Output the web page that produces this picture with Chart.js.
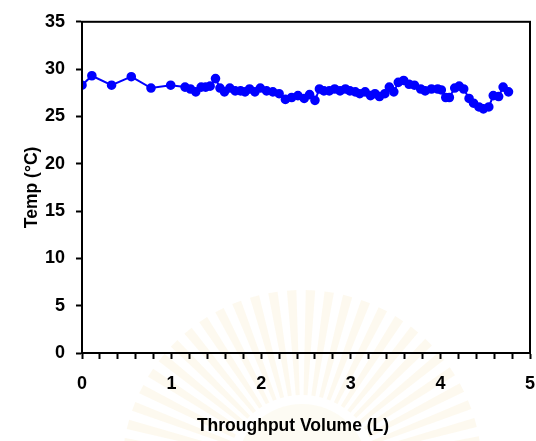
<!DOCTYPE html>
<html>
<head>
<meta charset="utf-8">
<script src="https://cdn.jsdelivr.net/npm/chart.js@4.4.1/dist/chart.umd.min.js"></script>
<style>
  html, body { margin: 0; padding: 0; background: #fff; }
  #wrap { width: 536px; height: 441px; position: relative; }
</style>
</head>
<body>
<div id="wrap"><canvas id="c" width="536" height="441"></canvas></div>
<script>
// Throughput volume (L) and outlet temperature (°C)
const volume = [
  0.00, 0.11, 0.33, 0.55, 0.77, 0.99, 1.15, 1.21, 1.27, 1.33,
  1.38, 1.43, 1.49, 1.54, 1.59, 1.65, 1.71, 1.77, 1.82, 1.87,
  1.93, 1.99, 2.06, 2.13, 2.20, 2.27, 2.34, 2.41, 2.48, 2.54,
  2.60, 2.65, 2.70, 2.76, 2.82, 2.88, 2.94, 2.99, 3.05, 3.10,
  3.16, 3.22, 3.27, 3.32, 3.38, 3.43, 3.48, 3.53, 3.59, 3.65,
  3.71, 3.78, 3.83, 3.90, 3.97, 4.01, 4.06, 4.10, 4.16, 4.21,
  4.26, 4.32, 4.37, 4.43, 4.48, 4.54, 4.59, 4.65, 4.70, 4.76
];
const temperature = [
  28.3, 29.3, 28.3, 29.2, 28.0, 28.3, 28.1, 27.9, 27.6, 28.1,
  28.1, 28.2, 29.0, 28.0, 27.6, 28.0, 27.7, 27.7, 27.6, 27.9,
  27.6, 28.0, 27.7, 27.6, 27.4, 26.8, 27.0, 27.2, 26.9, 27.3,
  26.7, 27.9, 27.7, 27.7, 27.9, 27.7, 27.9, 27.7, 27.6, 27.4,
  27.6, 27.2, 27.4, 27.1, 27.4, 28.1, 27.6, 28.6, 28.8, 28.4,
  28.3, 27.9, 27.7, 27.9, 27.9, 27.8, 27.0, 27.0, 28.0, 28.2,
  27.9, 26.9, 26.4, 26.0, 25.8, 26.0, 27.2, 27.1, 28.1, 27.6
];
const xTicks = [0, 1, 2, 3, 4, 5];
const yTicks = [0, 5, 10, 15, 20, 25, 30, 35];

const points = volume.map((v, i) => ({ x: v, y: temperature[i] }));

const FONT = "'Liberation Sans', Arial, sans-serif";

// faint golden seal printed behind the page
const seal = {
  id: 'seal',
  beforeDraw(chart) {
    const { ctx } = chart;
    const cx = 302, cy = 470;
    ctx.save();
    ctx.fillStyle = 'rgba(238, 214, 140, 0.14)';
    for (let i = 0; i < 30; i++) {
      const a0 = Math.PI + (i + 0.2) * Math.PI / 30;
      const a1 = Math.PI + (i + 0.7) * Math.PI / 30;
      ctx.beginPath();
      ctx.moveTo(cx + Math.cos(a0) * 75, cy + Math.sin(a0) * 75);
      ctx.lineTo(cx + Math.cos(a0) * 180, cy + Math.sin(a0) * 180);
      ctx.lineTo(cx + Math.cos(a1) * 180, cy + Math.sin(a1) * 180);
      ctx.lineTo(cx + Math.cos(a1) * 75, cy + Math.sin(a1) * 75);
      ctx.closePath();
      ctx.fill();
    }
    ctx.fillStyle = 'rgba(238, 214, 140, 0.10)';
    ctx.beginPath();
    ctx.arc(cx, cy, 66, Math.PI, 2 * Math.PI);
    ctx.fill();
    ctx.restore();
  }
};

// draws the closed frame round the plotting area
const frame = {
  id: 'frame',
  afterDraw(chart) {
    const { ctx, chartArea: a } = chart;
    ctx.save();
    ctx.strokeStyle = '#000';
    ctx.lineWidth = 2;
    ctx.strokeRect(a.left, a.top, a.right - a.left, a.bottom - a.top);
    ctx.restore();
  }
};

// the volume axis title sits a little left of the plot's centre
const titleShift = {
  id: 'titleShift',
  afterLayout(chart) {
    const s = chart.scales.x;
    if (s._shifted) return;
    const draw = s.drawTitle;
    s.drawTitle = function () {
      const ctx = this.ctx;
      ctx.save();
      ctx.translate(-13, 0);
      draw.apply(this, arguments);
      ctx.restore();
    };
    s._shifted = true;
  }
};

new Chart(document.getElementById('c'), {
  type: 'scatter',
  data: {
    datasets: [{
      data: points,
      showLine: true,
      borderColor: '#0000ff',
      backgroundColor: '#0000ff',
      borderWidth: 2,
      pointRadius: 3.8,
      pointHoverRadius: 3.8,
      tension: 0
    }]
  },
  options: {
    responsive: false,
    animation: false,
    layout: { padding: { top: 19, right: 6, left: 18, bottom: 0 } },
    plugins: { legend: { display: false }, tooltip: { enabled: false } },
    scales: {
      x: {
        type: 'linear',
        min: xTicks[0],
        max: xTicks[xTicks.length - 1],
        afterFit(s) {
          s.height = 88;
          s.paddingLeft = 0;
          s.paddingRight = 0;
        },
        afterBuildTicks(s) {
          const t = [];
          for (let i = 0; i <= 25; i++) t.push({ value: i / 5 });
          s.ticks = t;
        },
        ticks: {
          autoSkip: false,
          maxRotation: 0,
          padding: 14,
          color: '#000',
          font: { family: FONT, size: 18, weight: 'bold' },
          callback: v => Math.abs(v - Math.round(v)) < 1e-6 && xTicks.includes(Math.round(v)) ? String(Math.round(v)) : ''
        },
        grid: { drawOnChartArea: false, drawTicks: true, tickLength: 6, tickColor: '#000', tickWidth: 2 },
        border: { display: true, color: '#000', width: 2 },
        title: {
          display: true,
          text: 'Throughput Volume (L)',
          color: '#000',
          font: { family: FONT, size: 17.5, weight: 'bold' },
          padding: { top: 11 }
        }
      },
      y: {
        type: 'linear',
        min: yTicks[0],
        max: yTicks[yTicks.length - 1],
        afterFit(s) { s.width = 64; },
        afterBuildTicks(s) { s.ticks = yTicks.map(v => ({ value: v })); },
        ticks: {
          padding: 11,
          color: '#000',
          font: { family: FONT, size: 18, weight: 'bold' }
        },
        grid: { drawOnChartArea: false, drawTicks: true, tickLength: 6, tickColor: '#000', tickWidth: 2 },
        border: { display: true, color: '#000', width: 2 },
        title: {
          display: true,
          text: 'Temp (°C)',
          color: '#000',
          font: { family: FONT, size: 17.5, weight: 'bold' },
          padding: { bottom: 0 }
        }
      }
    }
  },
  plugins: [seal, frame, titleShift]
});
</script>
</body>
</html>
